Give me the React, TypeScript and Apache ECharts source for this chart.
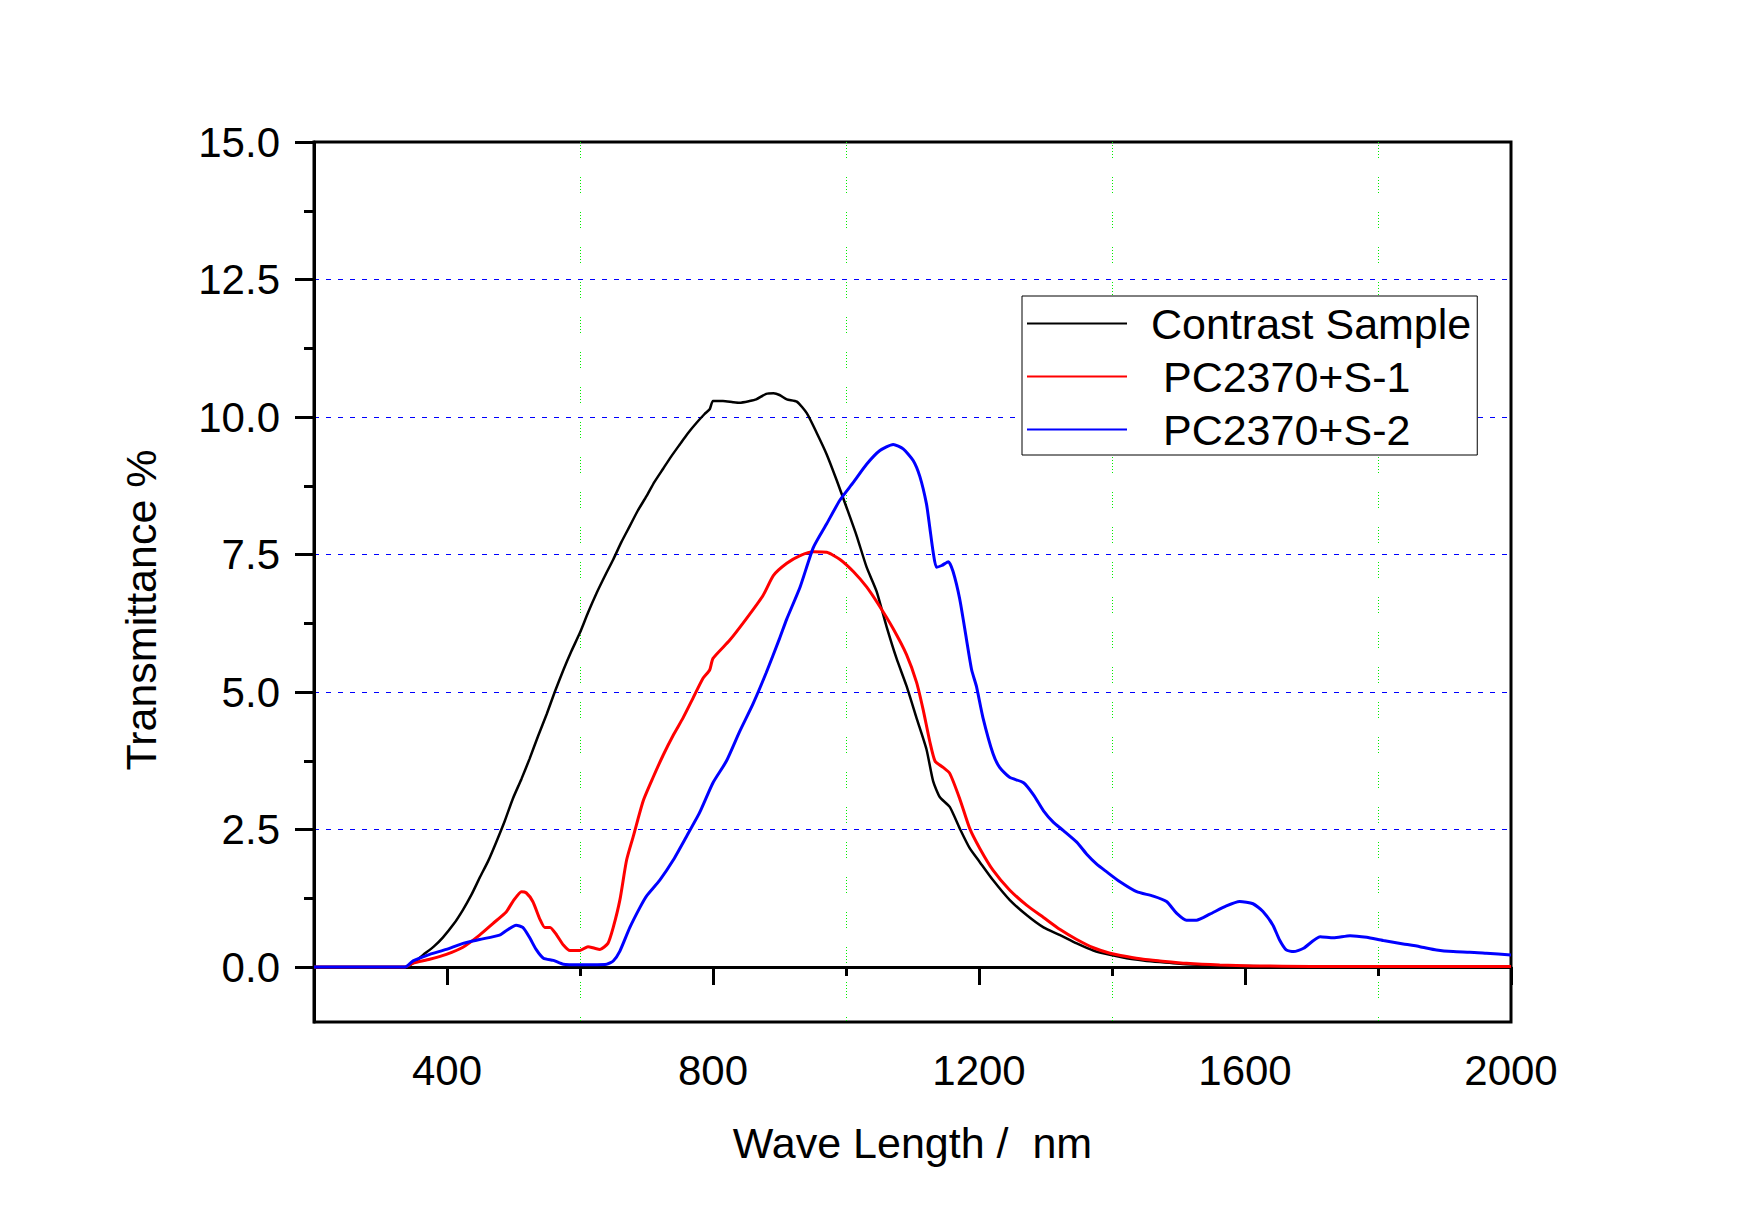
import React, { useEffect, useRef } from 'react';
import * as echarts from 'echarts';

const FONT = "'Liberation Sans', Arial, Helvetica, sans-serif";

const xMajorTicks = [400, 800, 1200, 1600, 2000];
const xMinorTicks = [200, 600, 1000, 1400, 1800];
const xGridLines = [600, 1000, 1400, 1800];
const yMajorTicks = [0, 2.5, 5, 7.5, 10, 12.5, 15];
const yMinorTicks = [1.25, 3.75, 6.25, 8.75, 11.25, 13.75];
const yGridLines = [0, 2.5, 5, 7.5, 10, 12.5];

const seriesNames = ['Contrast Sample', ' PC2370+S-1', ' PC2370+S-2'];
const seriesColors = ['#000000', '#ff0000', '#0000ff'];
const seriesWidths = [2.5, 3, 3];

const contrastSample = [
  [200, 0], [250, 0], [300, 0], [337, 0], [350, 0.08], [364, 0.22], [380, 0.37], [394, 0.54],
  [410, 0.78], [424, 1.04], [437, 1.32], [449, 1.62], [462, 1.93], [474, 2.27], [487, 2.66],
  [499, 3.06], [512, 3.42], [524, 3.78], [537, 4.2], [550, 4.6], [562, 5.0], [575, 5.4],
  [587, 5.74], [600, 6.08], [612, 6.44], [625, 6.8], [637, 7.1], [650, 7.41], [662, 7.72],
  [675, 8.02], [687, 8.3], [700, 8.56], [712, 8.82], [725, 9.06], [737, 9.28], [750, 9.5],
  [762, 9.7], [775, 9.89], [787, 10.05], [795, 10.14], [800, 10.29], [815, 10.29], [830, 10.27],
  [840, 10.26], [855, 10.29], [865, 10.32], [880, 10.42], [891, 10.43], [900, 10.4], [911, 10.32],
  [926, 10.28], [941, 10.07], [956, 9.71], [971, 9.32], [986, 8.85], [1001, 8.35], [1016, 7.84],
  [1031, 7.27], [1046, 6.83], [1061, 6.19], [1076, 5.61], [1091, 5.11], [1106, 4.53], [1121, 3.96],
  [1131, 3.38], [1141, 3.09], [1156, 2.91], [1171, 2.52], [1186, 2.16], [1201, 1.91], [1221, 1.58],
  [1246, 1.22], [1272, 0.94], [1297, 0.72], [1322, 0.58], [1347, 0.43], [1372, 0.3], [1397, 0.22],
  [1422, 0.16], [1447, 0.12], [1472, 0.09], [1512, 0.05], [1562, 0.025], [1650, 0.01], [1800, 0.0],
  [2000, 0.0],
];

const pc2370S1 = [
  [200, 0], [250, 0], [300, 0], [337, 0], [349, 0.07], [374, 0.14], [399, 0.23], [424, 0.36],
  [449, 0.58], [469, 0.79], [489, 1.0], [499, 1.19], [512, 1.37], [519, 1.35], [529, 1.19],
  [540, 0.86], [547, 0.72], [555, 0.72], [565, 0.58], [575, 0.4], [585, 0.3], [600, 0.3],
  [612, 0.37], [622, 0.34], [630, 0.32], [642, 0.43], [650, 0.72], [660, 1.22], [670, 1.94],
  [680, 2.37], [695, 3.02], [710, 3.45], [725, 3.85], [740, 4.21], [755, 4.53], [770, 4.89],
  [785, 5.25], [795, 5.4], [800, 5.61], [825, 5.94], [850, 6.33], [875, 6.75], [891, 7.12],
  [911, 7.34], [931, 7.48], [951, 7.55], [971, 7.54], [991, 7.41], [1011, 7.19], [1031, 6.91],
  [1051, 6.55], [1071, 6.15], [1091, 5.68], [1106, 5.18], [1116, 4.68], [1126, 4.1], [1134, 3.74],
  [1146, 3.63], [1156, 3.52], [1171, 3.06], [1186, 2.52], [1201, 2.16], [1221, 1.76], [1246, 1.4],
  [1272, 1.12], [1297, 0.9], [1322, 0.68], [1347, 0.5], [1372, 0.35], [1397, 0.25], [1422, 0.19],
  [1447, 0.14], [1472, 0.11], [1512, 0.067], [1562, 0.036], [1612, 0.02], [1700, 0.01],
  [2000, 0.01],
];

const pc2370S2 = [
  [200, 0], [250, 0], [300, 0], [337, 0], [349, 0.11], [374, 0.23], [399, 0.32], [424, 0.43],
  [449, 0.5], [479, 0.58], [489, 0.66], [504, 0.76], [514, 0.72], [524, 0.54], [534, 0.32],
  [545, 0.16], [560, 0.12], [575, 0.05], [600, 0.04], [640, 0.05], [650, 0.11], [660, 0.29],
  [675, 0.72], [690, 1.08], [700, 1.29], [720, 1.58], [740, 1.94], [760, 2.37], [780, 2.81],
  [800, 3.35], [820, 3.74], [840, 4.28], [860, 4.78], [880, 5.35], [900, 5.97], [911, 6.33],
  [931, 6.91], [951, 7.63], [971, 8.06], [991, 8.49], [1011, 8.81], [1031, 9.14], [1051, 9.39],
  [1071, 9.5], [1086, 9.42], [1101, 9.21], [1111, 8.92], [1121, 8.42], [1126, 7.99], [1131, 7.55],
  [1136, 7.27], [1144, 7.3], [1154, 7.37], [1161, 7.19], [1171, 6.69], [1181, 5.97], [1189, 5.4],
  [1196, 5.11], [1206, 4.53], [1221, 3.88], [1231, 3.63], [1246, 3.45], [1267, 3.35], [1282, 3.13],
  [1297, 2.84], [1312, 2.63], [1327, 2.48], [1347, 2.27], [1362, 2.05], [1377, 1.87], [1392, 1.73],
  [1412, 1.55], [1437, 1.37], [1462, 1.29], [1482, 1.19], [1497, 0.98], [1512, 0.85], [1527, 0.85],
  [1547, 0.96], [1572, 1.11], [1592, 1.19], [1612, 1.15], [1627, 1.01], [1642, 0.76], [1652, 0.49],
  [1662, 0.31], [1673, 0.28], [1688, 0.34], [1713, 0.55], [1733, 0.53], [1758, 0.57], [1783, 0.54],
  [1808, 0.48], [1838, 0.42], [1863, 0.37], [1888, 0.31], [1913, 0.28], [1938, 0.27], [1963, 0.25],
  [2000, 0.22],
];

const seriesData = [contrastSample, pc2370S1, pc2370S2];

export default function App() {
  const ref = useRef<HTMLDivElement>(null);

  useEffect(() => {
    document.body.style.margin = '0';
    if (!ref.current) return;
    const chart = echarts.init(ref.current, null, { renderer: 'svg' });
    const axisColor = '#000';
    const option: any = {
      animation: false,
      backgroundColor: '#ffffff',
      grid: {
        left: 314,
        right: 244,
        top: 142,
        bottom: 203,
        show: true,
        borderColor: '#000',
        borderWidth: 3,
        backgroundColor: 'transparent',
      },
      xAxis: [
        {
          type: 'value',
          min: 200,
          max: 2000,
          position: 'bottom',
          axisLine: { show: true, lineStyle: { color: axisColor, width: 3 } },
          axisTick: { show: true, length: 18, lineStyle: { color: axisColor, width: 3 }, customValues: xMajorTicks },
          axisLabel: {
            show: true,
            customValues: xMajorTicks,
            margin: 27,
            fontSize: 42,
            fontFamily: FONT,
            color: '#000',
            formatter: (v: number) => String(Math.round(v)),
          },
          splitLine: { show: false },
          name: 'Wave Length /  nm',
          nameLocation: 'middle',
          nameGap: 99,
          nameTextStyle: { fontSize: 43, fontFamily: FONT, color: '#000' },
        },
        {
          type: 'value',
          min: 200,
          max: 2000,
          position: 'bottom',
          axisLine: { show: false },
          axisTick: { show: true, length: 9, lineStyle: { color: axisColor, width: 3 }, customValues: xMinorTicks },
          axisLabel: { show: false },
          splitLine: { show: false },
        },
        {
          type: 'value',
          min: 200,
          max: 2000,
          position: 'bottom',
          axisLine: { show: false },
          axisTick: { show: false, customValues: xGridLines },
          axisLabel: { show: false },
          splitLine: {
            show: true,
            lineStyle: { color: '#00ee00', width: 1, type: [1, 2, 1, 2, 1, 2, 1, 2, 1, 2, 1, 19] },
          },
        },
      ],
      yAxis: [
        {
          type: 'value',
          min: -1,
          max: 15,
          position: 'left',
          axisLine: { show: true, lineStyle: { color: axisColor, width: 3 } },
          axisTick: { show: true, length: 19, lineStyle: { color: axisColor, width: 3 }, customValues: yMajorTicks },
          axisLabel: {
            show: true,
            customValues: yMajorTicks,
            margin: 34,
            fontSize: 42,
            fontFamily: FONT,
            color: '#000',
            formatter: (v: number) => v.toFixed(1),
          },
          splitLine: { show: false },
        },
        {
          type: 'value',
          min: -1,
          max: 15,
          position: 'left',
          axisLine: { show: false },
          axisTick: { show: true, length: 10, lineStyle: { color: axisColor, width: 3 }, customValues: yMinorTicks },
          axisLabel: { show: false },
          splitLine: { show: false },
        },
        {
          type: 'value',
          min: -1,
          max: 15,
          position: 'left',
          axisLine: { show: false },
          axisTick: { show: false, customValues: yGridLines },
          axisLabel: { show: false },
          splitLine: {
            show: true,
            lineStyle: { color: '#0000ff', width: 1, type: [5, 7] },
          },
        },
      ],
      legend: {
        show: true,
        orient: 'vertical',
        left: 1022,
        top: 296,
        itemWidth: 100,
        itemHeight: 4,
        itemGap: 10,
        padding: [6, 6, 4, 4],
        borderColor: '#000',
        borderWidth: 1,
        backgroundColor: '#fff',
        selectedMode: false,
        itemStyle: { opacity: 0 },
        textStyle: { fontSize: 43, fontFamily: FONT, color: '#000', padding: [0, 0, 0, 19] },
        data: seriesNames,
      },
      graphic: [
        {
          type: 'text',
          x: 141,
          y: 610,
          rotation: Math.PI / 2,
          style: {
            text: 'Transmittance %',
            fontSize: 43,
            fontFamily: FONT,
            fill: '#000',
            align: 'center',
            verticalAlign: 'middle',
          },
        },
      ],
      series: seriesNames.map((name, i) => ({
        name,
        type: 'line',
        xAxisIndex: 0,
        yAxisIndex: 0,
        data: seriesData[i],
        symbol: 'none',
        smooth: 0.2,
        lineStyle: { color: seriesColors[i], width: seriesWidths[i] },
        itemStyle: { color: seriesColors[i] },
        z: 3 + i,
      })),
    };
    chart.setOption(option);
    return () => {
      chart.dispose();
    };
  }, []);

  return (
    <div
      ref={ref}
      style={{ position: 'absolute', left: 0, top: 0, width: 1755, height: 1225, background: '#fff' }}
    />
  );
}
